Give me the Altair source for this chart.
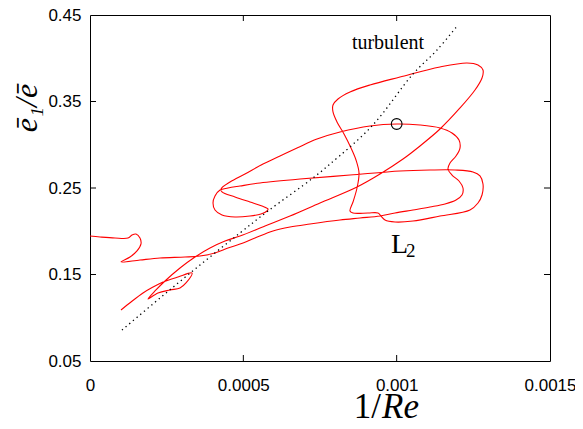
import altair as alt
import pandas as pd

# red trajectory (1/Re, e1/e), in drawing order
curve_x = [0.0001011, 0.0001337, 0.0001728, 0.0002054, 0.0002380, 0.0002870, 0.0003326,
           0.0003130, 0.0002935, 0.0002609, 0.0002217, 0.0001891,
           0.0002152, 0.0002446, 0.0002935, 0.0003424, 0.0003913, 0.0004402, 0.0004891,
           0.0005707, 0.0006522, 0.0007500, 0.0008707, 0.0009457, 0.0010207, 0.0010761,
           0.0011413, 0.0012065, 0.0012554, 0.0012783, 0.0012815, 0.0012652, 0.0012293,
           0.0011413, 0.0010109, 0.0009130, 0.0008478, 0.0008087, 0.0007924, 0.0007924,
           0.0008054, 0.0008283, 0.0008511, 0.0008674, 0.0008772, 0.0008707, 0.0008576,
           0.0008478, 0.0008576, 0.0009065, 0.0009391, 0.0009489, 0.0009620, 0.0009946,
           0.0010533, 0.0011413, 0.0012391, 0.0012652, 0.0012783, 0.0012815, 0.0012717,
           0.0012489, 0.0011902, 0.0011087, 0.0010109, 0.0008478, 0.0006848, 0.0005543,
           0.0004891, 0.0004500, 0.0004239,
           0.0004076, 0.0004011, 0.0004076, 0.0004304, 0.0004728, 0.0005217, 0.0005576,
           0.0005772, 0.0005804, 0.0005609, 0.0005217, 0.0004728, 0.0004304, 0.0004272,
           0.0004565, 0.0005054, 0.0005641, 0.0006196, 0.0006750, 0.0007402, 0.0008152,
           0.0009130, 0.0010011, 0.0010761, 0.0011413, 0.0011804, 0.0012033, 0.0012065,
           0.0011935, 0.0011739, 0.0011674, 0.0011804, 0.0012033, 0.0012163, 0.0012130,
           0.0011935, 0.0011576, 0.0011087, 0.0010533, 0.0009946, 0.0009457, 0.0008804,
           0.0008152, 0.0007174, 0.0006522, 0.0005967, 0.0005380, 0.0004891, 0.0004500,
           0.0004076, 0.0003587, 0.0003098, 0.0002283, 0.0001630, 0.0001011,
           0.0001304, 0.0001533, 0.0001663, 0.0001630, 0.0001500, 0.0001370, 0.0001239,
           0.0000815, 0.0000326, 0.0]
curve_y = [0.1090, 0.1182, 0.1286, 0.1355, 0.1413, 0.1471, 0.1517,
           0.1402, 0.1344, 0.1321, 0.1286, 0.1217,
           0.1321, 0.1425, 0.1575, 0.1702, 0.1806, 0.1887, 0.1945,
           0.2061, 0.2176, 0.2327, 0.2512, 0.2662, 0.2835, 0.2986,
           0.3182, 0.3425, 0.3633, 0.3772, 0.3864, 0.3922, 0.3945,
           0.3899, 0.3783, 0.3691, 0.3610, 0.3529, 0.3460, 0.3379,
           0.3263, 0.3124, 0.2962, 0.2824, 0.2673, 0.2500, 0.2338,
           0.2234, 0.2211, 0.2211, 0.2211, 0.2176, 0.2130, 0.2107,
           0.2118, 0.2176, 0.2246, 0.2327, 0.2419, 0.2546, 0.2639,
           0.2685, 0.2708, 0.2708, 0.2697, 0.2650, 0.2604, 0.2558,
           0.2523, 0.2500, 0.2477,
           0.2408, 0.2327, 0.2246, 0.2188, 0.2165, 0.2176, 0.2199,
           0.2234, 0.2257, 0.2292, 0.2338, 0.2396, 0.2454, 0.2488,
           0.2569, 0.2662, 0.2777, 0.2870, 0.2962, 0.3066, 0.3147,
           0.3217, 0.3240, 0.3228, 0.3194, 0.3136, 0.3055, 0.2962,
           0.2870, 0.2789, 0.2720, 0.2650, 0.2581, 0.2500, 0.2419,
           0.2361, 0.2315, 0.2280, 0.2246, 0.2211, 0.2176, 0.2153,
           0.2130, 0.2084, 0.2049, 0.2003, 0.1922, 0.1853, 0.1806,
           0.1749, 0.1714, 0.1702, 0.1691, 0.1668, 0.1645,
           0.1702, 0.1772, 0.1853, 0.1922, 0.1968, 0.1957, 0.1922,
           0.1922, 0.1934, 0.1945]

# dotted "turbulent" branch
turb_x = [0.0001043, 0.0002283, 0.0003587, 0.0004891, 0.0005804, 0.0007272,
          0.0007826, 0.0009196, 0.0010533, 0.0011315, 0.0012]
turb_y = [0.0858, 0.1228, 0.1610, 0.1980, 0.2234, 0.2616,
          0.2777, 0.3217, 0.3818, 0.4095, 0.4384]

# open circle
point_x = [0.001]
point_y = [0.324]

# tick values
x_ticks = [0, 0.0005, 0.001, 0.0015]
y_ticks = [0.05, 0.15, 0.25, 0.35, 0.45]
x_inner = [0.0005, 0.001]
y_inner = [0.15, 0.25, 0.35]

# annotations
turb_label = ["turbulent"]
turb_lx = [0.0009717]
turb_ly = [0.4107]
l_label = ["L"]
l_lx = [0.0009815]
l_ly = [0.1749]
sub_label = ["2"]
sub_lx = [0.0010304]
sub_ly = [0.1702]

W, H = 460, 346
xs = alt.Scale(domain=[0, 0.0015], nice=False, zero=False)
ys = alt.Scale(domain=[0.05, 0.45], nice=False, zero=False)
xaxis = alt.Axis(values=x_ticks, format=".4~f", ticks=False, tickSize=0, domain=False, grid=False,
                 labelFont="Liberation Sans", labelFontSize=17, labelColor="black",
                 labelPadding=16, labelFlush=False, labelOverlap=False)
yaxis = alt.Axis(values=y_ticks, format=".2f", ticks=False, tickSize=0, domain=False, grid=False,
                 labelFont="Liberation Sans", labelFontSize=17, labelColor="black",
                 labelPadding=9, labelFlush=False, labelOverlap=False)


def X(f):
    return alt.X(f"{f}:Q", scale=xs, axis=xaxis, title=None)


def Y(f):
    return alt.Y(f"{f}:Q", scale=ys, axis=yaxis, title=None)


curve_df = pd.DataFrame({"x": curve_x, "y": curve_y, "i": list(range(len(curve_x)))})
turb_df = pd.DataFrame({"x": turb_x, "y": turb_y, "i": list(range(len(turb_x)))})

curve = alt.Chart(curve_df).mark_line(color="#ff0000", strokeWidth=1.1,
                                      interpolate="catmull-rom").encode(
    x=X("x"), y=Y("y"), order="i:Q")
turb = alt.Chart(turb_df).mark_line(color="black", strokeWidth=1.3, strokeDash=[1.3, 3.5],
                                    interpolate="catmull-rom").encode(
    x=X("x"), y=Y("y"), order="i:Q")
pt = alt.Chart(pd.DataFrame({"x": point_x, "y": point_y})).mark_point(
    shape="circle", filled=False, color="black", size=115, strokeWidth=1.1, opacity=1).encode(
    x=X("x"), y=Y("y"))

xt = pd.DataFrame({"x": x_inner})
yt = pd.DataFrame({"y": y_inner})
tick_style = dict(color="black", strokeWidth=1)
t_bottom = alt.Chart(xt).mark_rule(**tick_style).encode(x=X("x"), y=alt.value(H), y2=alt.value(H - 6))
t_top = alt.Chart(xt).mark_rule(**tick_style).encode(x=X("x"), y=alt.value(0), y2=alt.value(6))
t_left = alt.Chart(yt).mark_rule(**tick_style).encode(y=Y("y"), x=alt.value(0), x2=alt.value(6))
t_right = alt.Chart(yt).mark_rule(**tick_style).encode(y=Y("y"), x=alt.value(W), x2=alt.value(W - 6))

turb_txt = alt.Chart(pd.DataFrame({"x": turb_lx, "y": turb_ly, "t": turb_label})).mark_text(
    font="Liberation Serif", fontSize=20, color="black", align="center", baseline="alphabetic").encode(
    x=X("x"), y=Y("y"), text="t:N")
l_txt = alt.Chart(pd.DataFrame({"x": l_lx, "y": l_ly, "t": l_label})).mark_text(
    font="Liberation Serif", fontSize=28, color="black", align="left", baseline="alphabetic").encode(
    x=X("x"), y=Y("y"), text="t:N")
sub_txt = alt.Chart(pd.DataFrame({"x": sub_lx, "y": sub_ly, "t": sub_label})).mark_text(
    font="Liberation Serif", fontSize=19, color="black", align="left", baseline="alphabetic").encode(
    x=X("x"), y=Y("y"), text="t:N")

xt1 = alt.Chart(pd.DataFrame({"t": ["1/"]})).mark_text(
    font="Liberation Serif", fontSize=35, color="black", align="right", baseline="alphabetic").encode(
    x=alt.value(291), y=alt.value(403), text="t:N")
xt2 = alt.Chart(pd.DataFrame({"t": ["Re"]})).mark_text(
    font="Liberation Serif", fontSize=35, fontStyle="italic", color="black", align="left",
    baseline="alphabetic").encode(
    x=alt.value(292), y=alt.value(403), text="t:N")
ytitle = alt.Chart(pd.DataFrame({"t": ["ē₁/ē"]})).mark_text(
    font="Liberation Serif", fontSize=32, fontStyle="italic", color="black", align="center",
    baseline="middle", angle=270).encode(
    x=alt.value(-63), y=alt.value(93), text="t:N")

chart = alt.layer(
    curve, turb, pt, t_bottom, t_top, t_left, t_right, turb_txt, l_txt, sub_txt, xt1, xt2, ytitle
).properties(
    width=W, height=H,
    autosize=alt.AutoSizeParams(type="none"),
    padding={"left": 82, "top": 7, "right": 25, "bottom": 66},
).configure_view(stroke="black", strokeWidth=1)

chart.save("out.html", embed_options={"renderer": "svg", "actions": False})
